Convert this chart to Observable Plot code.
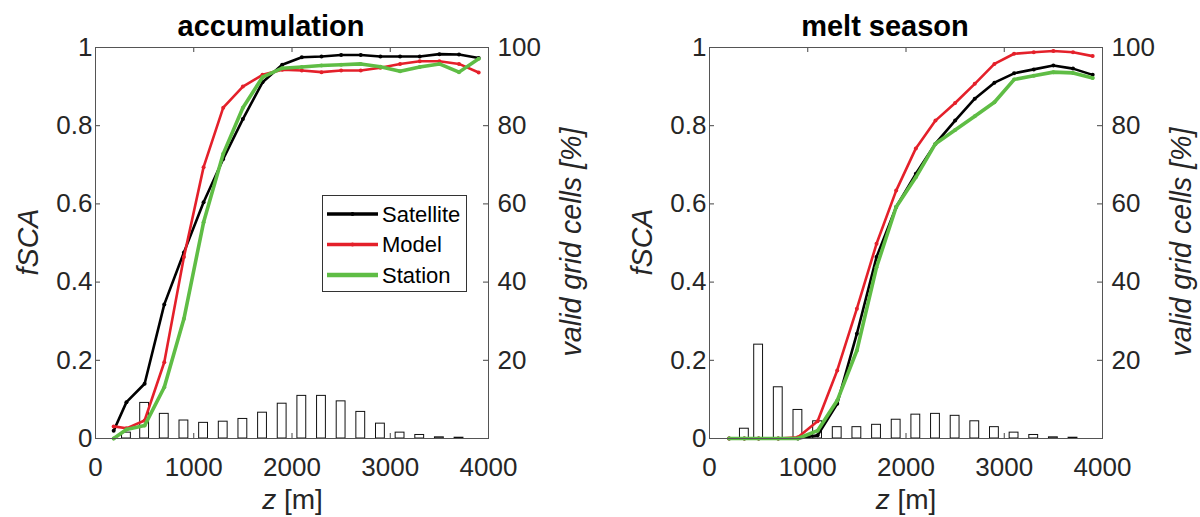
<!DOCTYPE html>
<html><head><meta charset="utf-8">
<script src="https://cdn.jsdelivr.net/npm/d3@7"></script>
<script src="https://cdn.jsdelivr.net/npm/@observablehq/plot@0.6"></script>
<style>
html,body{margin:0;padding:0;background:#fff;}
#wrap{position:relative;width:1200px;height:517px;overflow:hidden;font-family:"Liberation Sans",Arial,sans-serif;}
#wrap > svg{position:absolute;top:0;}
</style></head><body><div id="wrap"></div>
<script>
// elevation (m) of each line point
const zAcc  = [185, 315, 500, 700, 900, 1100, 1300, 1500, 1700, 1900, 2100, 2300, 2500, 2700, 2900, 3100, 3300, 3500, 3700, 3900];
const zMelt = [200, 355, 500, 700, 900, 1100, 1300, 1500, 1700, 1900, 2100, 2300, 2500, 2700, 2900, 3100, 3300, 3500, 3700, 3900];

// accumulation fSCA
const satAcc = [0.020, 0.093, 0.140, 0.343, 0.476, 0.604, 0.715, 0.817, 0.911, 0.956, 0.975, 0.977, 0.981, 0.981, 0.977, 0.977, 0.977, 0.983, 0.982, 0.973];
const modAcc = [0.031, 0.026, 0.046, 0.195, 0.464, 0.694, 0.846, 0.900, 0.930, 0.943, 0.941, 0.937, 0.941, 0.941, 0.948, 0.958, 0.965, 0.965, 0.958, 0.936];
const staAcc = [0.000, 0.023, 0.033, 0.131, 0.306, 0.553, 0.728, 0.846, 0.924, 0.947, 0.950, 0.954, 0.956, 0.958, 0.951, 0.939, 0.950, 0.958, 0.937, 0.971];
// accumulation valid grid cells [%] (bars at zAcc[1..18])
const histAcc = [1.5, 9.1, 6.3, 4.6, 4.0, 4.3, 5.0, 6.6, 8.9, 10.9, 10.9, 9.5, 6.8, 3.8, 1.5, 0.9, 0.3, 0.2];

// melt season fSCA
const satMelt = [0, 0, 0, 0, 0, 0.008, 0.089, 0.268, 0.464, 0.592, 0.677, 0.754, 0.813, 0.869, 0.910, 0.934, 0.944, 0.954, 0.946, 0.930];
const modMelt = [0, 0, 0, 0, 0.003, 0.044, 0.174, 0.332, 0.498, 0.634, 0.742, 0.813, 0.858, 0.907, 0.958, 0.984, 0.988, 0.991, 0.988, 0.978];
const staMelt = [0, 0, 0, 0, 0, 0.020, 0.097, 0.225, 0.438, 0.592, 0.668, 0.754, 0.789, 0.824, 0.860, 0.918, 0.928, 0.937, 0.935, 0.922];
const histMelt = [2.5, 24.0, 13.1, 7.3, 4.4, 2.9, 2.9, 3.5, 4.8, 6.1, 6.3, 5.8, 4.4, 2.9, 1.5, 0.9, 0.3, 0.2];

const xTicks = [0, 1000, 2000, 3000, 4000];
const yTicks = [0, 0.2, 0.4, 0.6, 0.8, 1];
const pctTicks = [20, 40, 60, 80, 100];
const seriesNames = ["Satellite", "Model", "Station"];
const colors = {Satellite: "#000000", Model: "#e4202a", Station: "#5fbd45"};
const widths = {Satellite: 2.6, Model: 2.6, Station: 3.6};

const FONT = "Liberation Sans, Arial, sans-serif";

function panel(z, sat, mod, sta, hist, marginLeft, marginRight) {
  const vals = {Satellite: sat, Model: mod, Station: sta};
  const bars = hist.map((p, i) => ({z: z[i + 1], pct: p}));
  const marks = [
    Plot.rectY(bars, {x1: d => d.z - 45, x2: d => d.z + 45, y1: 0, y2: d => d.pct / 100, fill: "white", stroke: "#111", strokeWidth: 1}),
    Plot.tickX(xTicks, {x: d => d, insetBottom: 386, stroke: "#444"}),
    Plot.tickX(xTicks, {x: d => d, insetTop: 386, stroke: "#444"}),
    Plot.tickY(yTicks, {y: d => d, insetRight: 388, stroke: "#444"}),
    Plot.tickY(yTicks, {y: d => d, insetLeft: 388, stroke: "#444"})
  ];
  for (const s of seriesNames) {
    const rows = z.map((zz, i) => ({z: zz, v: vals[s][i]}));
    marks.push(Plot.line(rows, {x: "z", y: "v", stroke: colors[s], strokeWidth: widths[s]}));
    marks.push(Plot.dot(rows, {x: "z", y: "v", r: 2, fill: colors[s], stroke: "none"}));
  }
  marks.push(
    Plot.frame({stroke: "#555", strokeWidth: 1}),
    Plot.axisX({ticks: xTicks, tickSize: 0, tickPadding: 19, tickFormat: d => String(d), label: null}),
    Plot.axisY({anchor: "left", ticks: yTicks, tickSize: 0, tickPadding: 3, tickFormat: d => String(d), label: null}),
    Plot.axisY({anchor: "right", ticks: pctTicks.map(p => p / 100), tickSize: 0, tickPadding: 9, tickFormat: d => String(Math.round(d * 100)), label: null})
  );
  return Plot.plot({
    width: 600, height: 517,
    marginLeft, marginRight, marginTop: 47, marginBottom: 79,
    x: {domain: [0, 4000]},
    y: {domain: [0, 1]},
    style: {fontFamily: FONT, fontSize: "26px", color: "#262626", background: "transparent", overflow: "visible"},
    marks
  });
}

const wrap = document.getElementById("wrap");
const p1 = panel(zAcc, satAcc, modAcc, staAcc, histAcc, 95, 112);
p1.style.left = "0px";
const p2 = panel(zMelt, satMelt, modMelt, staMelt, histMelt, 109, 98);
p2.style.left = "600px";
wrap.appendChild(p1);
wrap.appendChild(p2);

// overlay text: titles, axis labels, legend
const ns = "http://www.w3.org/2000/svg";
const ov = document.createElementNS(ns, "svg");
ov.setAttribute("width", 1200); ov.setAttribute("height", 517);
ov.style.left = "0px"; ov.style.pointerEvents = "none";
ov.setAttribute("font-family", FONT);
wrap.appendChild(ov);
function txt(str, attrs, html) {
  const t = document.createElementNS(ns, "text");
  for (const k in attrs) t.setAttribute(k, attrs[k]);
  if (html) t.innerHTML = str; else t.textContent = str;
  ov.appendChild(t);
  return t;
}
const titles = [["accumulation", 271], ["melt season", 885]];
for (const [s, x] of titles) txt(s, {x, y: 36, "text-anchor": "middle", "font-size": 29, "font-weight": "bold", fill: "#000"});
for (const x of [38, 652]) txt("fSCA", {transform: `translate(${x},242) rotate(-90)`, "text-anchor": "middle", "font-size": 28.6, "font-style": "italic", fill: "#262626"});
for (const x of [581, 1191]) txt("valid grid cells [%]", {transform: `translate(${x},242) rotate(-90)`, "text-anchor": "middle", "font-size": 28.6, "font-style": "italic", fill: "#262626"});
for (const x of [292.5, 906]) txt('<tspan font-style="italic">z</tspan> [m]', {x, y: 509, "text-anchor": "middle", "font-size": 28, fill: "#262626"}, true);

// legend
const lg = document.createElementNS(ns, "g");
ov.appendChild(lg);
const box = document.createElementNS(ns, "rect");
Object.entries({x: 322.5, y: 195.5, width: 144, height: 96, fill: "white", stroke: "#333", "stroke-width": 1}).forEach(([k, v]) => box.setAttribute(k, v));
lg.appendChild(box);
seriesNames.forEach((s, i) => {
  const y = 214 + i * 30.5;
  const l = document.createElementNS(ns, "line");
  Object.entries({x1: 327, x2: 378, y1: y, y2: y, stroke: colors[s], "stroke-width": widths[s] + 1}).forEach(([k, v]) => l.setAttribute(k, v));
  lg.appendChild(l);
  const c = document.createElementNS(ns, "circle");
  Object.entries({cx: 352.5, cy: y, r: 2, fill: colors[s]}).forEach(([k, v]) => c.setAttribute(k, v));
  lg.appendChild(c);
  const t = document.createElementNS(ns, "text");
  Object.entries({x: 382, y: y, dy: "0.35em", "font-size": 22, fill: "#000"}).forEach(([k, v]) => t.setAttribute(k, v));
  t.textContent = s;
  lg.appendChild(t);
});
</script></body></html>
